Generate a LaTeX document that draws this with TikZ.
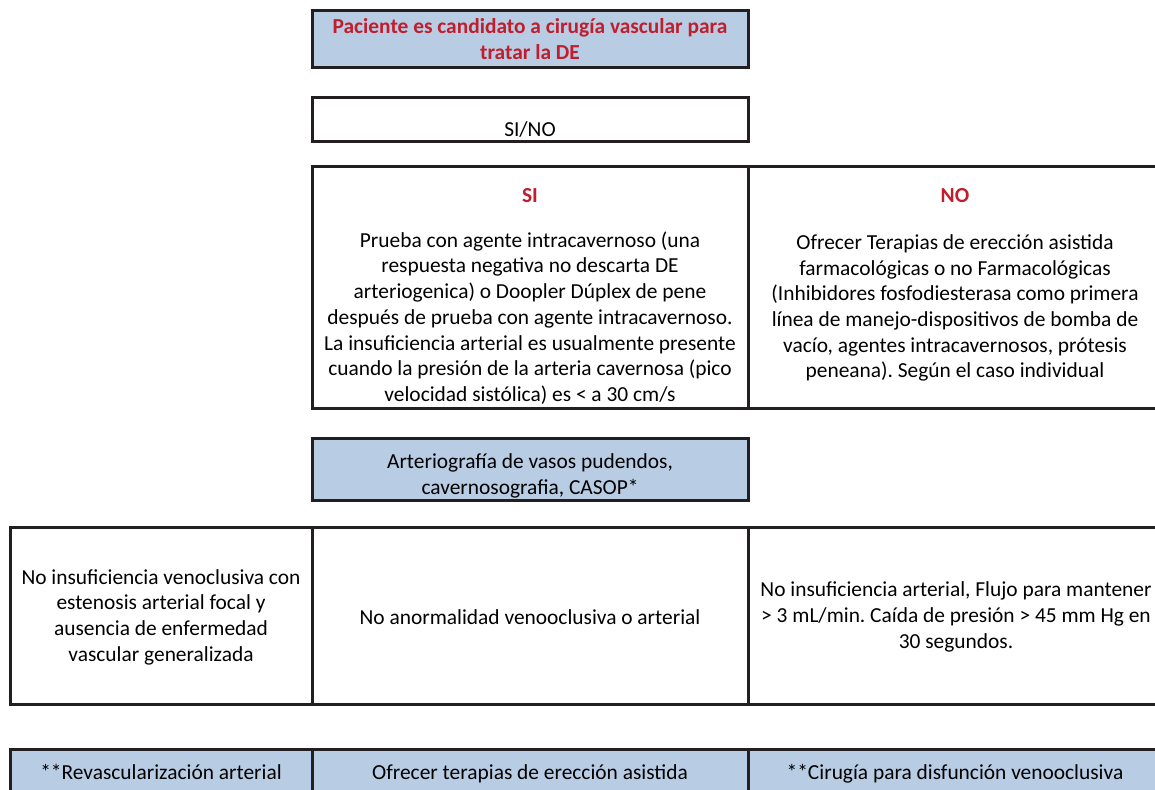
\documentclass[tikz,border=0pt]{standalone}
\usepackage{fontspec}
\setmainfont{Carlito}
\definecolor{cajaazul}{RGB}{184,204,228}
\definecolor{rojo}{RGB}{192,30,45}
\definecolor{borde}{RGB}{35,31,32}

\begin{document}
\frenchspacing
\begin{tikzpicture}[x=0.5pt,y=-0.5pt,
  caja/.style={draw=borde,line width=1.5pt},
  azul/.style={caja,fill=cajaazul},
  texto/.style={align=center,inner sep=0pt,font=\fontsize{10.7}{12.85}\selectfont},
  titulo/.style={texto,text=rojo,font=\fontsize{10.7}{12.85}\selectfont\bfseries}]
\useasboundingbox (0,0) rectangle (1155,789);
\clip (0,0) rectangle (1155,789);

% cajas
\draw[azul] (312,10) rectangle (748,67);
\draw[caja] (312,97) rectangle (748,141);
\draw[caja] (312,166) rectangle (748,408);
\draw[caja] (748,166) rectangle (1162,408);
\draw[azul] (312,438) rectangle (748,500);
\draw[caja] (10,527) rectangle (312,704);
\draw[caja] (312,527) rectangle (748,704);
\draw[caja] (748,527) rectangle (1162,704);
\draw[azul] (10,749) rectangle (312,810);
\draw[azul] (312,749) rectangle (748,810);
\draw[azul] (748,749) rectangle (1162,810);

% textos
\node[titulo] (candidato) at (530,39) {Paciente es candidato a cirugía vascular para\\tratar la DE};
\node[texto,anchor=base] (sino) at (530,136) {SI/NO};
\node[titulo,anchor=base] (si) at (530,202) {SI};
\node[texto] (prueba) at (530,318) {Prueba con agente intracavernoso (una\\respuesta negativa no descarta DE\\arteriogenica) o Doopler Dúplex de pene\\después de prueba con agente intracavernoso.\\La insuficiencia arterial es usualmente presente\\cuando la presión de la arteria cavernosa (pico\\velocidad sistólica) es < a 30 cm/s};
\node[titulo,anchor=base] (no) at (955,202) {NO};
\node[texto] (terapias) at (955,308) {Ofrecer Terapias de erección asistida\\farmacológicas o no Farmacológicas\\(Inhibidores fosfodiesterasa como primera\\línea de manejo-dispositivos de bomba de\\vacío, agentes intracavernosos, prótesis\\peneana). Según el caso individual};
\node[texto] (arteriografia) at (530,476) {Arteriografía de vasos pudendos,\\cavernosografia, CASOP*};
\node[texto] (estenosis) at (161,617) {No insuficiencia venoclusiva con\\estenosis arterial focal y\\ausencia de enfermedad\\vascular generalizada};
\node[texto] (normal) at (530,617) {No anormalidad venooclusiva o arterial};
\node[texto] (flujo) at (956,617) {No insuficiencia arterial, Flujo para mantener\\> 3 mL/min. Caída de presión > 45 mm Hg en\\30 segundos.};
\node[texto,anchor=base] (revasc) at (161,779) {**Revascularización arterial};
\node[texto,anchor=base] (ofrecer) at (530,779) {Ofrecer terapias de erección asistida};
\node[texto,anchor=base] (cirugia) at (955,779) {**Cirugía para disfunción venooclusiva};
\end{tikzpicture}
\end{document}
